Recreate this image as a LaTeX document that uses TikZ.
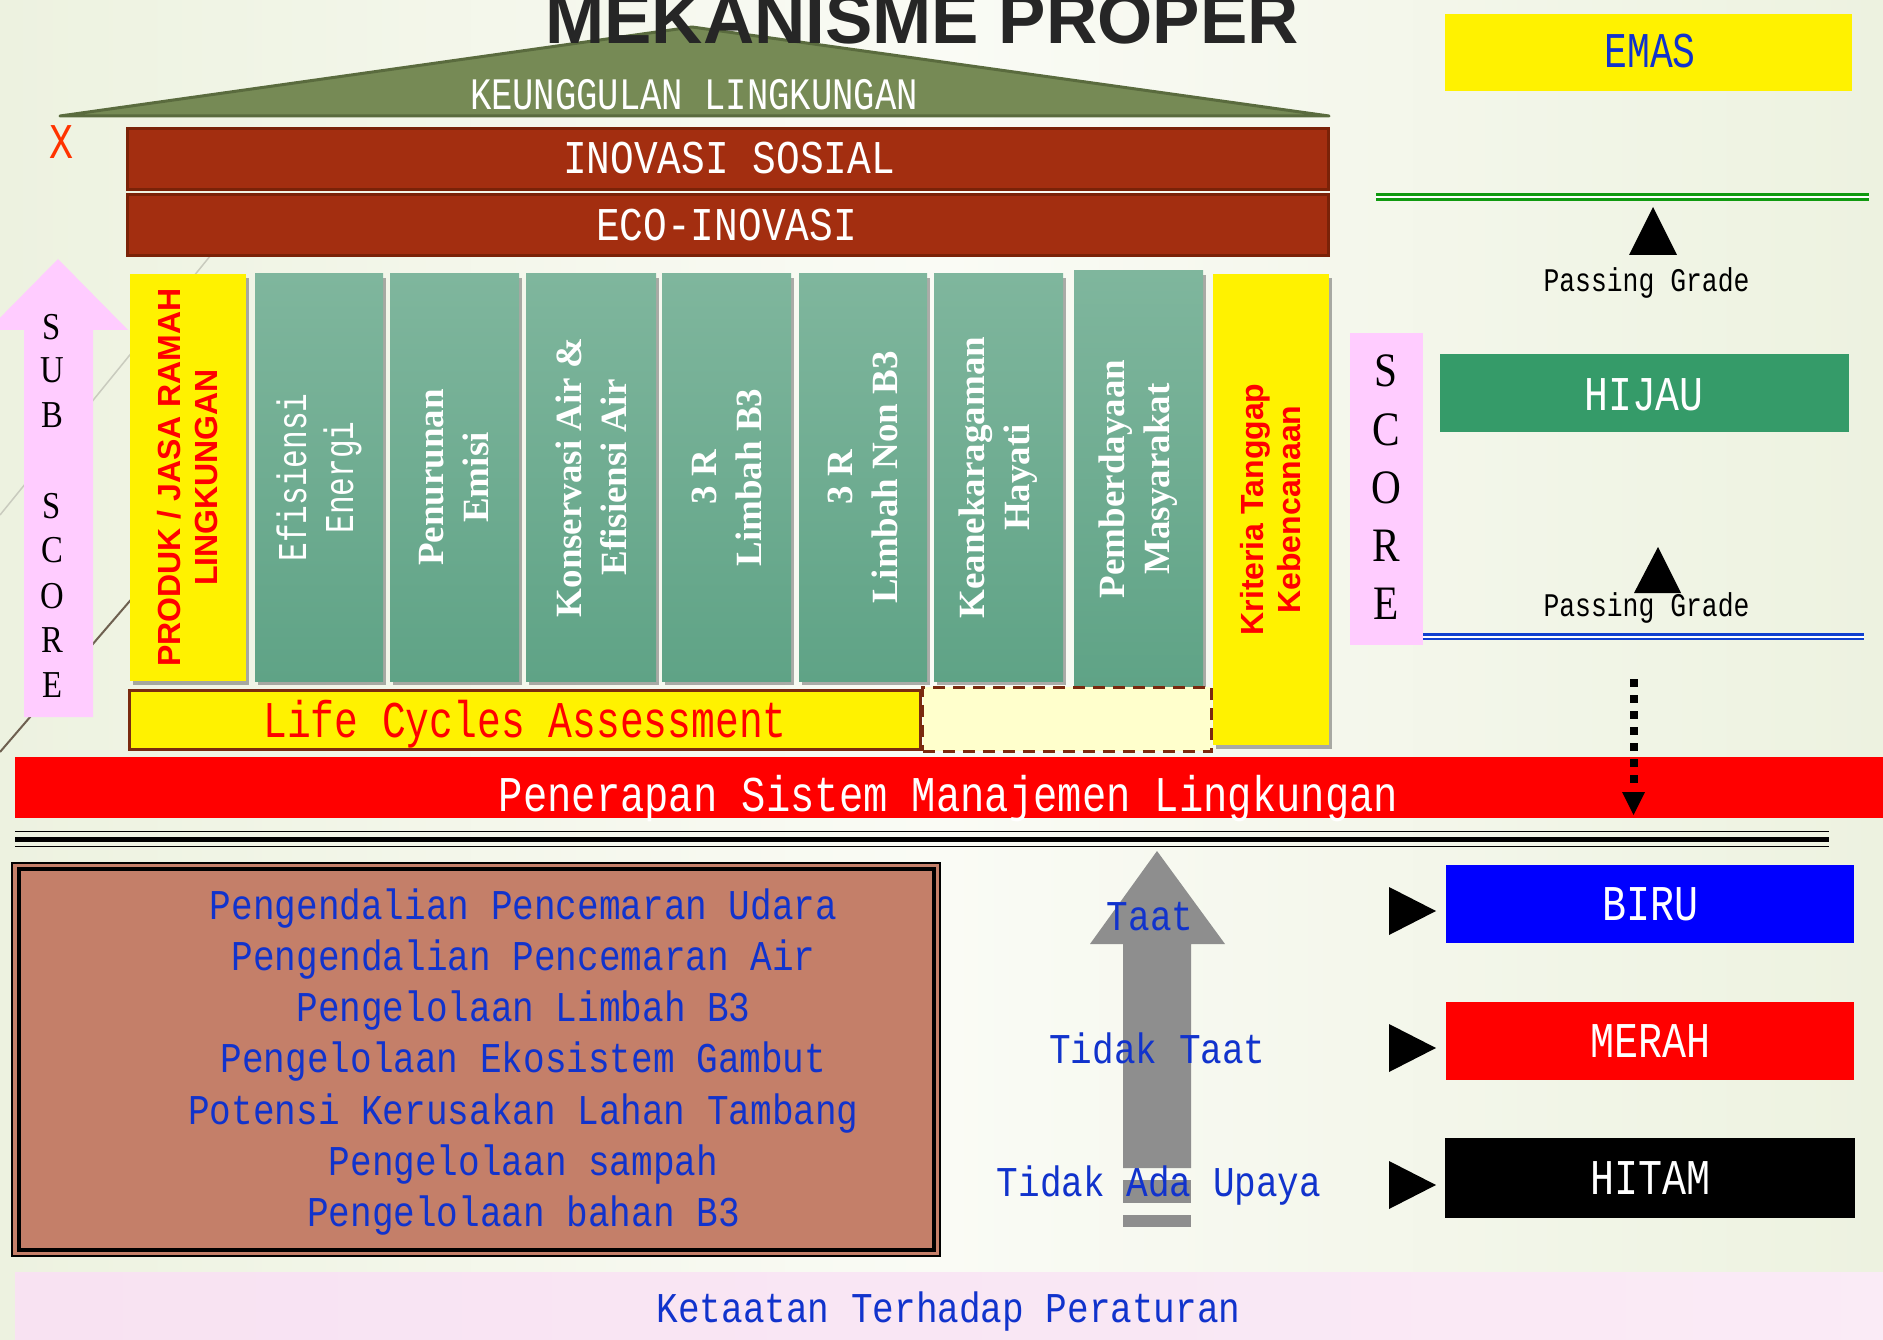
\documentclass[tikz,border=0pt]{standalone}
\usepackage{fontspec}
\setmainfont{Liberation Serif}
\newfontfamily\monof{Liberation Mono}
\newfontfamily\arialf{Liberation Sans}
\usetikzlibrary{shadows}
\newcommand\sx[2]{\scalebox{#1}[1]{#2}}
\newcommand\fz[2]{\fontsize{#1}{#2}\selectfont}
\definecolor{bgA}{HTML}{EDF2E0}
\definecolor{bgB}{HTML}{FAFBF5}
\definecolor{roof}{HTML}{768A55}
\definecolor{roofd}{HTML}{5A6B3E}
\definecolor{brick}{HTML}{A32E10}
\definecolor{brickd}{HTML}{7A2208}
\definecolor{colT}{HTML}{7FB69D}
\definecolor{colB}{HTML}{5FA386}
\definecolor{lcab}{HTML}{7A2A10}
\definecolor{lyel}{HTML}{FFFFCC}
\definecolor{salmon}{HTML}{C47F69}
\definecolor{tblue}{HTML}{1133CC}
\definecolor{pinkA}{HTML}{FFCCFF}
\definecolor{pinkB}{HTML}{F8E2F2}
\definecolor{hijau}{HTML}{359B69}
\definecolor{agray}{HTML}{8E8E8E}
\definecolor{titlegray}{HTML}{262626}
\definecolor{xred}{HTML}{FF3300}
\definecolor{pgreen}{HTML}{109A10}
\definecolor{pblue}{HTML}{1040D0}
\definecolor{lineA}{HTML}{C9CBBE}
\definecolor{lineB}{HTML}{6E6050}
\begin{document}
\begin{tikzpicture}[x=1pt,y=-1pt,
  every node/.style={inner sep=0pt,outer sep=0pt},
  shadowed/.style={drop shadow={shadow xshift=3pt,shadow yshift=-4pt,opacity=0.45,fill=black!70}},
  greencol/.style={rectangle,top color=colT,bottom color=colB,shadowed},
  yelcol/.style={rectangle,fill=yellow,shadowed},
  coltxt/.style={text=white,align=center,rotate=90,font=\bfseries\fz{37}{45}},
  redtxt/.style={text=red,align=center,rotate=90,font=\arialf\bfseries\fz{32}{37}},
  bluetxt/.style={text=tblue,anchor=base,font=\monof\fz{42.4}{42.4}},
  cbox/.style={rectangle,draw=none},
  wtxt/.style={text=white,anchor=base},
]
\useasboundingbox (0,0) rectangle (1883,1340);
\clip (0,0) rectangle (1883,1340);
% background
\shade[left color=bgA,right color=bgA,middle color=bgB] (0,0) rectangle (1883,1340);
\draw[lineA,line width=1.5pt] (0,515) -- (215,250);
\draw[lineB,line width=2pt] (0,752) -- (135,595);

% roof
\draw[fill=roof,draw=roofd,line width=3pt,line join=round] (60,116) -- (692,27) -- (1329,116) -- cycle;
\node[font=\arialf\bfseries\fz{71}{71},text=titlegray,anchor=base] (title) at (922,44) {MEKANISME PROPER};
\node[font=\monof\fz{45}{45},text=white,anchor=base,xscale=0.79] (keung) at (694,110) {KEUNGGULAN LINGKUNGAN};

% X mark
\node[font=\monof\fz{50}{50},text=xred,anchor=base,xscale=0.8] (xmark) at (62,159) {X};

% brick bars
\node[cbox,fill=brick,draw=brickd,line width=3pt,minimum width=1201pt,minimum height=61pt] (inov) at (728,159) {};
\node[cbox,fill=brick,draw=brickd,line width=3pt,minimum width=1201pt,minimum height=61pt] (eco) at (728,225) {};
\node[font=\monof\fz{47}{47},wtxt,xscale=0.84] (inovt) at (729,174) {INOVASI SOSIAL};
\node[font=\monof\fz{47}{47},wtxt,xscale=0.84] (ecot) at (726.5,241) {ECO-INOVASI};

% SUB SCORE arrow
\fill[pinkA] (24,717) -- (24,330) -- (-12,330) -- (58,259) -- (128,330) -- (93,330) -- (93,717) -- cycle;
\foreach \L/\yy in {S/340,U/383,B/428,S/518,C/562,O/608,R/652,E/697}
  \node[font=\fz{38}{38},anchor=base,xscale=0.86] (sub\yy) at (52,\yy) {\L};

% columns
\node[yelcol,minimum width=116pt,minimum height=407pt] (c1) at (188,477.5) {};
\node[greencol,minimum width=128pt,minimum height=407pt] (c2) at (319,477.5) {};
\node[greencol,minimum width=129pt,minimum height=407pt] (c3) at (454.5,477.5) {};
\node[greencol,minimum width=130pt,minimum height=407pt] (c4) at (591,477.5) {};
\node[greencol,minimum width=129pt,minimum height=407pt] (c5) at (726.5,477.5) {};
\node[greencol,minimum width=128pt,minimum height=407pt] (c6) at (863,477.5) {};
\node[greencol,minimum width=129pt,minimum height=407pt] (c7) at (998.5,477.5) {};
\node[greencol,minimum width=129pt,minimum height=416pt] (c8) at (1138.5,479) {};
\node[yelcol,minimum width=116pt,minimum height=471pt] (c9) at (1271,509.5) {};

\node[redtxt] (t1) at (c1.center) {PRODUK / JASA RAMAH\\LINGKUNGAN};
\node[text=white,align=center,rotate=90,font=\monof\fz{41}{47}] (t2) at (c2.center) {\sx{0.76}{Efisiensi}\\\sx{0.76}{Energi}};
\node[coltxt] (t3) at (c3.center) {Penurunan\\Emisi};
\node[coltxt] (t4) at (c4.center) {Konservasi Air \&\\Efisiensi Air};
\node[coltxt] (t5) at (c5.center) {3 R\\Limbah B3};
\node[coltxt] (t6) at (c6.center) {3 R\\Limbah Non B3};
\node[coltxt] (t7) at (c7.center) {Keanekaragaman\\Hayati};
\node[coltxt] (t8) at (c8.center) {Pemberdayaan\\Masyarakat};
\node[redtxt] (t9) at (c9.center) {Kriteria Tanggap\\Kebencanaan};

% LCA + dashed box
\node[cbox,fill=yellow,draw=lcab,line width=3pt,minimum width=791pt,minimum height=59pt] (lca) at (525,720) {};
\node[font=\monof\fz{51.5}{51.5},text=red,anchor=base,xscale=0.77] (lcat) at (525,737) {Life Cycles Assessment};
\node[cbox,fill=lyel,draw=lcab,line width=3pt,dash pattern=on 12pt off 8pt,minimum width=289pt,minimum height=64pt] (dbox) at (1067,719) {};

% red SML bar
\node[cbox,fill=red,minimum width=1868pt,minimum height=61pt] (sml) at (949,787.5) {};
\node[font=\monof\fz{50}{50},wtxt,xscale=0.81] (smlt) at (948.5,811) {Penerapan Sistem Manajemen Lingkungan};

% triple line
\draw[line width=1.5pt] (15,831.5) -- (1829,831.5);
\draw[line width=5pt] (15,839.5) -- (1829,839.5);
\draw[line width=1.5pt] (15,846.5) -- (1829,846.5);

% bottom-left box
\node[cbox,fill=salmon,draw=black,line width=2pt,minimum width=928pt,minimum height=393pt] (regbox) at (476,1059.5) {};
\draw[line width=4pt] (19,869) rectangle (934,1250);
\foreach \t [count=\i] in {Pengendalian Pencemaran Udara,Pengendalian Pencemaran Air,Pengelolaan Limbah B3,Pengelolaan Ekosistem Gambut,Potensi Kerusakan Lahan Tambang,Pengelolaan sampah,Pengelolaan bahan B3}
  \node[bluetxt,xscale=0.85] (bl\i) at (523.5,{919+51.3*(\i-1)}) {\t};

% pink band
\node[cbox,left color=pinkB,right color=pinkB!70!white,minimum width=1868pt,minimum height=68pt] (ket) at (949,1306) {};
\node[bluetxt,xscale=0.85] (kett) at (948.5,1322) {Ketaatan Terhadap Peraturan};

% gray arrow
\fill[agray] (1123,1168) -- (1123,944) -- (1090,944) -- (1157,851) -- (1225,944) -- (1191,944) -- (1191,1168) -- cycle;
\fill[agray] (1123,1180) rectangle (1191,1203);
\fill[agray] (1123,1215) rectangle (1191,1227);
\node[bluetxt,xscale=0.85] (taat) at (1150,930) {Taat};
\node[bluetxt,xscale=0.85] (ttaat) at (1157.5,1063) {Tidak Taat};
\node[bluetxt,xscale=0.85] (tada) at (1159,1196) {Tidak Ada Upaya};

% right side grade boxes
\node[cbox,fill=yellow,minimum width=407pt,minimum height=77pt] (emas) at (1648.5,52.5) {};
\node[font=\monof\fz{50}{50},text=tblue,anchor=base,xscale=0.76] (emast) at (1650,68) {EMAS};
\draw[pgreen,double=white,double distance=2pt,line width=3pt] (1376,197) -- (1869,197);
\fill (1629,255) -- (1653,207) -- (1677,255) -- cycle;
\node[font=\monof\fz{33}{33},anchor=base,xscale=0.8] (pg1) at (1646.5,292) {Passing Grade};
\node[cbox,fill=pinkA,minimum width=73pt,minimum height=312pt] (score) at (1386.5,489) {};
\foreach \L [count=\i] in {S,C,O,R,E}
  \node[font=\fz{48}{48},anchor=base,xscale=0.86] (sc\i) at (1386,{387+58*(\i-1)}) {\L};
\node[cbox,fill=hijau,minimum width=409pt,minimum height=78pt] (hijau) at (1644.5,393) {};
\node[font=\monof\fz{48.5}{48.5},wtxt,xscale=0.82] (hijaut) at (1644,410) {HIJAU};
\fill (1634,593) -- (1658,547) -- (1681,593) -- cycle;
\node[font=\monof\fz{33}{33},anchor=base,xscale=0.8] (pg2) at (1646.5,616) {Passing Grade};
\draw[pblue,double=white,double distance=2pt,line width=2.5pt] (1423,636.5) -- (1864,636.5);

% dotted arrow
\coordinate (dA) at (1633.5,679);
\coordinate (dB) at (1633.5,783);
\coordinate (dT) at (1633.5,815);
\draw[line width=8pt,dash pattern=on 8pt off 8pt] (dA) -- (dB);
\fill (1622,792) -- (1645,792) -- (dT) -- cycle;

% lower grade boxes
\node[cbox,fill=blue,minimum width=408pt,minimum height=78pt] (biru) at (1650,904) {};
\node[font=\monof\fz{50}{50},wtxt,xscale=0.8] (birut) at (1650,920) {BIRU};
\node[cbox,fill=red,minimum width=408pt,minimum height=78pt] (merah) at (1650,1041) {};
\node[font=\monof\fz{50}{50},wtxt,xscale=0.8] (meraht) at (1650,1057) {MERAH};
\node[cbox,fill=black,minimum width=410pt,minimum height=80pt] (hitam) at (1650,1178) {};
\node[font=\monof\fz{50}{50},wtxt,xscale=0.8] (hitamt) at (1650,1194) {HITAM};
\fill (1389,887) -- (1436,911) -- (1389,935) -- cycle;
\fill (1389,1024) -- (1436,1048) -- (1389,1072) -- cycle;
\fill (1389,1161) -- (1436,1185) -- (1389,1209) -- cycle;
\end{tikzpicture}
\end{document}
